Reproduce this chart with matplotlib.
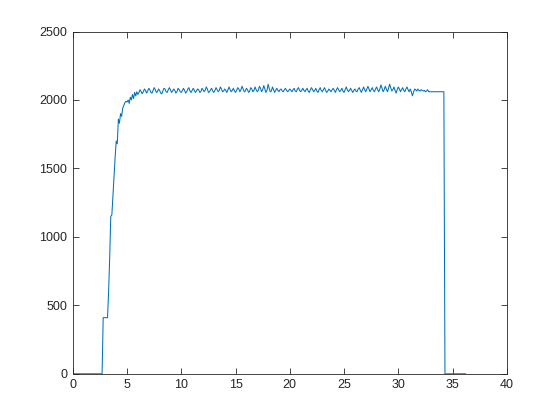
import numpy as np
import matplotlib
matplotlib.use("Agg")
from matplotlib import pyplot as plt

plt.rcParams['font.family'] = ['Liberation Sans', 'DejaVu Sans']

sample_step = 0.1  # seconds between samples

# signal values, one per sample
idle_start = [0] * 28                      # 0.0 - 2.7
first_step = [410] * 5                     # 2.8 - 3.2
ramp = [600, 850, 1150, 1160, 1300, 1450, 1580, 1700, 1680, 1860,
        1830, 1900, 1880, 1940, 1960, 1980, 1990, 1985, 2000, 1975,
        2020, 2000, 2040, 2010, 2055, 2030, 2060]   # 3.3 - 5.9
plateau = [
    2040, 2055, 2075, 2060, 2045, 2060, 2080, 2070, 2050, 2065,
    2085, 2075, 2055, 2050, 2070, 2090, 2075, 2055, 2060, 2080,
    2070, 2050, 2045, 2065, 2085, 2080, 2060, 2055, 2075, 2090,
    2075, 2055, 2065, 2080, 2070, 2050, 2060, 2085, 2075, 2060,
    2055, 2070, 2085, 2070, 2050, 2060, 2080, 2090, 2065, 2055,
    2070, 2085, 2070, 2055, 2065, 2080, 2075, 2055, 2060, 2085,
    2075, 2060, 2070, 2095, 2080, 2055, 2060, 2075, 2085, 2065,
    2055, 2070, 2090, 2075, 2060, 2070, 2095, 2080, 2060, 2065,
    2080, 2070, 2055, 2075, 2095, 2075, 2060, 2070, 2085, 2065,
    2055, 2070, 2090, 2080, 2060, 2075, 2100, 2080, 2060, 2065,
    2085, 2075, 2055, 2065, 2090, 2080, 2060, 2070, 2095, 2075,
    2060, 2070, 2100, 2085, 2060, 2075, 2105, 2080, 2055, 2070,
    2115, 2085, 2060, 2065, 2095, 2075, 2055, 2070, 2085, 2070,
    2060, 2075, 2080, 2065, 2060, 2075, 2085, 2070, 2060, 2070,
    2080, 2070, 2060, 2075, 2085, 2065, 2060, 2080, 2090, 2070,
    2060, 2070, 2085, 2070, 2060, 2075, 2085, 2065, 2055, 2075,
    2090, 2075, 2060, 2070, 2085, 2065, 2055, 2075, 2090, 2070,
    2060, 2075, 2090, 2070, 2055, 2065, 2080, 2070, 2060, 2075,
    2085, 2070, 2055, 2075, 2090, 2075, 2060, 2070, 2085, 2065,
    2055, 2075, 2095, 2075, 2060, 2070, 2085, 2070, 2055, 2070,
    2080, 2065, 2060, 2080, 2090, 2070, 2055, 2075, 2095, 2075,
    2060, 2080, 2100, 2080, 2060, 2075, 2090, 2070, 2060, 2080,
    2095, 2075, 2060, 2080, 2110, 2085, 2060, 2075, 2100, 2080,
    2060, 2085, 2115, 2090, 2065, 2075, 2095, 2070, 2050, 2075,
    2095, 2080, 2060, 2075, 2090, 2070, 2060, 2080, 2095, 2075,
    2060, 2080, 2060, 2030, 2055, 2080, 2075, 2065, 2080, 2070,
    2065, 2075, 2070, 2065, 2070, 2060, 2065, 2075]   # 6.0 - 32.7
hold = [2060] * 15                         # 32.8 - 34.2
idle_end = [0] * 20                        # 34.3 - 36.2

signal = idle_start + first_step + ramp + plateau + hold + idle_end
time = np.arange(len(signal)) * sample_step

fig = plt.figure(figsize=(5.6, 4.2), dpi=100)
ax = fig.add_axes([0.13, 0.11, 0.775, 0.815])
ax.plot(time, signal, color='#0072BD', linewidth=0.75)

ax.set_xlim([0, 40])
ax.set_ylim([0, 2500])
ax.set_xticks([0, 5, 10, 15, 20, 25, 30, 35, 40])
ax.set_yticks([0, 500, 1000, 1500, 2000, 2500])
ax.tick_params(direction='in', top=True, right=True, length=4, width=0.6,
               colors='#262626', labelsize=9, pad=4)
for s in ax.spines.values():
    s.set_color('#262626')
    s.set_linewidth(0.6)

fig.savefig('out.png', dpi=100, facecolor='white')
